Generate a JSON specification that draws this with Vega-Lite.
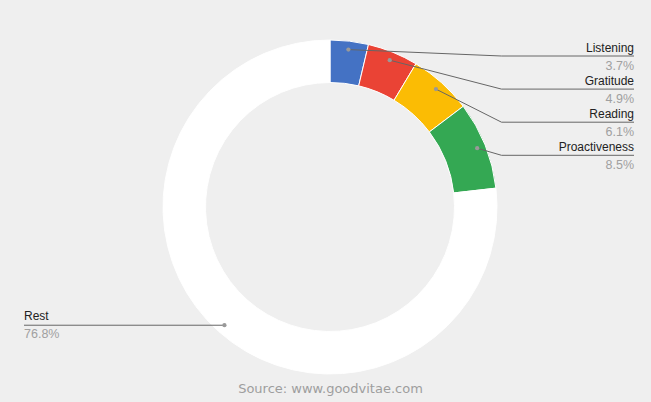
{
  "$schema": "https://vega.github.io/schema/vega-lite/v6.json",
  "width": 651,
  "height": 375,
  "padding": {"left": 0, "top": 0, "right": 0, "bottom": 6},
  "background": "#efefef",
  "title": {
    "text": "Source: www.goodvitae.com",
    "orient": "bottom",
    "anchor": "middle",
    "font": "DejaVu Sans",
    "fontSize": 13,
    "fontWeight": "normal",
    "color": "#9e9e9e",
    "offset": 7,
    "dx": 5
  },
  "data": {
    "values": [
      {"category": "Listening", "share": 0.037},
      {"category": "Gratitude", "share": 0.049},
      {"category": "Reading", "share": 0.061},
      {"category": "Proactiveness", "share": 0.085},
      {"category": "Rest", "share": 0.768}
    ]
  },
  "transform": [
    {"window": [{"op": "row_number", "as": "idx"}]},
    {"window": [{"op": "sum", "field": "share", "as": "cum"}], "sort": [{"field": "idx"}], "frame": [null, 0]},
    {"calculate": "2 * PI * (datum.cum - datum.share / 2)", "as": "mid"},
    {"calculate": "158.5 * sin(datum.mid)", "as": "px"},
    {"calculate": "158.5 * cos(datum.mid)", "as": "py"},
    {"calculate": "datum.px >= 0 ? 'right' : 'left'", "as": "side"},
    {"calculate": "datum.side == 'right' ? 151 - 33.1 * (datum.idx - 1) : datum.py", "as": "ly"},
    {"calculate": "datum.side == 'right' ? 171.5 : datum.px", "as": "ex"},
    {"calculate": "datum.side == 'right' ? 304 : -306", "as": "tx"}
  ],
  "layer": [
    {
      "mark": {"type": "arc", "outerRadius": 167, "innerRadius": 124.5, "stroke": "#ffffff", "strokeWidth": 1},
      "encoding": {
        "x": {"datum": 0, "type": "quantitative", "scale": {"domain": [-330, 321], "nice": false, "zero": false}, "axis": null},
        "y": {"datum": 0, "type": "quantitative", "scale": {"domain": [-168, 207], "nice": false, "zero": false}, "axis": null},
        "theta": {"field": "share", "type": "quantitative", "stack": true},
        "order": {"field": "idx", "type": "quantitative"},
        "color": {
          "field": "category",
          "type": "nominal",
          "scale": {
            "domain": ["Listening", "Gratitude", "Reading", "Proactiveness", "Rest"],
            "range": ["#4472c4", "#ea4335", "#fbbc04", "#34a853", "#ffffff"]
          },
          "legend": null
        }
      }
    },
    {
      "mark": {"type": "rule", "color": "#666666", "strokeWidth": 1},
      "encoding": {
        "x": {"field": "px", "type": "quantitative", "scale": {"domain": [-330, 321], "nice": false, "zero": false}, "axis": null},
        "y": {"field": "py", "type": "quantitative", "scale": {"domain": [-168, 207], "nice": false, "zero": false}, "axis": null},
        "x2": {"field": "ex"},
        "y2": {"field": "ly"}
      }
    },
    {
      "mark": {"type": "rule", "color": "#666666", "strokeWidth": 1},
      "encoding": {
        "x": {"field": "ex", "type": "quantitative", "scale": {"domain": [-330, 321], "nice": false, "zero": false}, "axis": null},
        "y": {"field": "ly", "type": "quantitative", "scale": {"domain": [-168, 207], "nice": false, "zero": false}, "axis": null},
        "x2": {"field": "tx"}
      }
    },
    {
      "mark": {"type": "point", "filled": true, "size": 18, "color": "#999999", "opacity": 1},
      "encoding": {
        "x": {"field": "px", "type": "quantitative", "scale": {"domain": [-330, 321], "nice": false, "zero": false}, "axis": null},
        "y": {"field": "py", "type": "quantitative", "scale": {"domain": [-168, 207], "nice": false, "zero": false}, "axis": null}
      }
    },
    {
      "transform": [{"filter": "datum.side == 'right'"}],
      "mark": {"type": "text", "align": "right", "baseline": "alphabetic", "dy": -4, "font": "Liberation Sans", "fontSize": 12, "color": "#222222"},
      "encoding": {
        "x": {"field": "tx", "type": "quantitative", "scale": {"domain": [-330, 321], "nice": false, "zero": false}, "axis": null},
        "y": {"field": "ly", "type": "quantitative", "scale": {"domain": [-168, 207], "nice": false, "zero": false}, "axis": null},
        "text": {"field": "category"}
      }
    },
    {
      "transform": [{"filter": "datum.side == 'right'"}],
      "mark": {"type": "text", "align": "right", "baseline": "alphabetic", "dy": 14, "font": "Liberation Sans", "fontSize": 12.5, "color": "#a0a0a0"},
      "encoding": {
        "x": {"field": "tx", "type": "quantitative", "scale": {"domain": [-330, 321], "nice": false, "zero": false}, "axis": null},
        "y": {"field": "ly", "type": "quantitative", "scale": {"domain": [-168, 207], "nice": false, "zero": false}, "axis": null},
        "text": {"field": "share", "format": ".1%"}
      }
    },
    {
      "transform": [{"filter": "datum.side == 'left'"}],
      "mark": {"type": "text", "align": "left", "baseline": "alphabetic", "dy": -5, "font": "Liberation Sans", "fontSize": 12, "color": "#222222"},
      "encoding": {
        "x": {"field": "tx", "type": "quantitative", "scale": {"domain": [-330, 321], "nice": false, "zero": false}, "axis": null},
        "y": {"field": "ly", "type": "quantitative", "scale": {"domain": [-168, 207], "nice": false, "zero": false}, "axis": null},
        "text": {"field": "category"}
      }
    },
    {
      "transform": [{"filter": "datum.side == 'left'"}],
      "mark": {"type": "text", "align": "left", "baseline": "alphabetic", "dy": 13, "font": "Liberation Sans", "fontSize": 12.5, "color": "#a0a0a0"},
      "encoding": {
        "x": {"field": "tx", "type": "quantitative", "scale": {"domain": [-330, 321], "nice": false, "zero": false}, "axis": null},
        "y": {"field": "ly", "type": "quantitative", "scale": {"domain": [-168, 207], "nice": false, "zero": false}, "axis": null},
        "text": {"field": "share", "format": ".1%"}
      }
    }
  ],
  "config": {
    "view": {"stroke": null}
  }
}
